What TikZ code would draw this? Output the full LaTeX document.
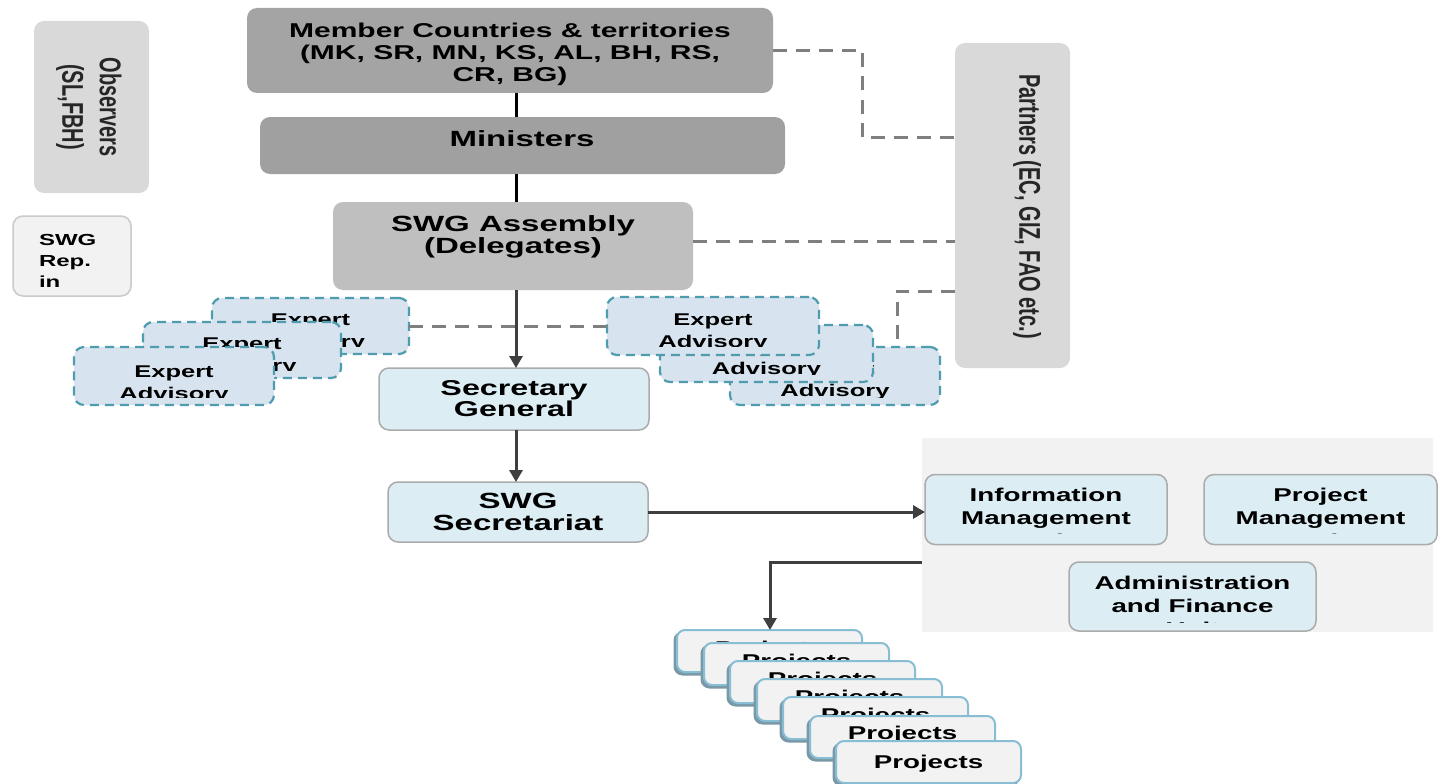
\documentclass[tikz,border=0pt]{standalone}
\usepackage{fontspec}
\setmainfont[FakeStretch=1.5]{Liberation Sans}
\newfontfamily\rotfont{Liberation Sans}
\usetikzlibrary{arrows.meta}
\definecolor{memgray}{HTML}{A4A4A4}
\definecolor{mingray}{HTML}{A0A0A0}
\definecolor{asmgray}{HTML}{BFBFBF}
\definecolor{ltgray}{HTML}{D9D9D9}
\definecolor{palegray}{HTML}{F2F2F2}
\definecolor{repedge}{HTML}{CACACA}
\definecolor{bluefill}{HTML}{DCEDF4}
\definecolor{boxedge}{HTML}{ABABAB}
\definecolor{expfill}{HTML}{D7E4EF}
\definecolor{expedge}{HTML}{4F9CAF}
\definecolor{dashgray}{HTML}{7F7F7F}
\definecolor{arrowgray}{HTML}{3F3F3F}
\definecolor{projedge}{HTML}{88BED4}
\definecolor{projshadow}{HTML}{7A98A6}
\definecolor{rottext}{HTML}{262626}
\begin{document}
\begin{tikzpicture}[x=1pt,y=-1pt,
  every node/.style={inner sep=0pt, outer sep=0pt},
  rbox/.style={rectangle, rounded corners=10pt},
  graybox/.style={rbox, fill=#1},
  repbox/.style={rbox, fill=palegray, draw=repedge, line width=1.5pt},
  bluebox/.style={rbox, fill=bluefill, draw=boxedge, line width=1.5pt},
  expbox/.style={rbox, fill=expfill, draw=expedge, line width=2.2pt, dash pattern=on 9pt off 6pt},
  projbox/.style={rectangle, rounded corners=8pt, fill=palegray, draw=projedge, line width=2pt, minimum width=185pt, minimum height=42pt},
  dashline/.style={draw=dashgray, line width=3pt, dash pattern=on 14pt off 9pt},
  solidline/.style={draw=black, line width=3pt},
  arrowline/.style={draw=arrowgray, line width=3pt, -{Triangle[length=12pt,width=13pt]}},
  lbl/.style args={#1/#2}{font=\bfseries\fontsize{#1}{#2}\selectfont, align=center},
  rotlbl/.style={font=\rotfont\bfseries\fontsize{20}{25}\selectfont, text=rottext, align=center, transform shape, rotate=-90}
]
\useasboundingbox (0,0) rectangle (1441,784);
\fill[white] (0,0) rectangle (1441,784);

\coordinate (spine) at (516,0);

% ---- left column ----
\node[graybox=ltgray, minimum width=115pt, minimum height=172pt] (observers) at (91.5,107) {};
\begin{scope}[shift={(89,107)}, xscale=1.5]
  \node[rotlbl] (obstext) at (0,0) {Observers\\(SL,FBH)};
\end{scope}
\node[repbox, minimum width=118pt, minimum height=80pt] (rep) at (72,256) {};
\node[lbl=16/21, align=left, anchor=west] (reptext) at (39,261) {SWG\\Rep.\\in};

% ---- central column ----
\node[graybox=memgray, minimum width=526pt, minimum height=85pt] (member) at (510,50.5) {};
\node[lbl=20/22] (membertext) at (510,54) {Member Countries \& territories\\(MK, SR, MN, KS, AL, BH, RS,\\CR, BG)};
\node[graybox=mingray, minimum width=525pt, minimum height=57pt] (ministers) at (522.5,145.5) {};
\node[lbl=22/22] (ministerstext) at (522,139) {Ministers};
\node[graybox=asmgray, minimum width=360pt, minimum height=88pt] (assembly) at (513,246) {};
\node[lbl=22/22] (assemblytext) at (513,236.5) {SWG Assembly\\(Delegates)};

% ---- partners ----
\node[graybox=ltgray, minimum width=115pt, minimum height=325pt] (partners) at (1012.5,205.5) {};
\begin{scope}[shift={(1027,206.5)}, xscale=1.5]
  \node[rotlbl] (partnerstext) at (0,0) {Partners (EC, GIZ, FAO etc.)};
\end{scope}

% ---- secretariat ----
\node[bluebox, minimum width=270pt, minimum height=62pt] (secgen) at (514,399) {};
\node[lbl=21.5/21] (secgentext) at (514,399) {Secretary\\General};
\node[bluebox, minimum width=260pt, minimum height=60pt] (secretariat) at (518,512) {};
\node[lbl=22/22] (secretariattext) at (518,512) {SWG\\Secretariat};

% ---- units panel ----
\node[rectangle, fill=palegray, minimum width=511pt, minimum height=194pt] (panel) at (1177.5,535) {};
\node[bluebox, minimum width=242pt, minimum height=70pt] (imu) at (1046,509.5) {};
\node[bluebox, minimum width=233pt, minimum height=70pt] (pmu) at (1320.5,509.5) {};
\node[bluebox, minimum width=247pt, minimum height=69pt] (afu) at (1192.5,596.5) {};
\begin{scope}
  \clip ([yshift=-4pt]imu.north west) rectangle ([yshift=11pt]imu.south east);
  \node[lbl=18.5/23] (imutext) at (1046,518) {Information\\Management\\Unit};
\end{scope}
\begin{scope}
  \clip ([yshift=-4pt]pmu.north west) rectangle ([yshift=11pt]pmu.south east);
  \node[lbl=18.5/23] (pmutext) at (1320.5,518) {Project\\Management\\Unit};
\end{scope}
\begin{scope}
  \clip ([yshift=-4pt]afu.north west) rectangle ([yshift=9pt]afu.south east);
  \node[lbl=18.5/23] (afutext) at (1192.5,606) {Administration\\and Finance\\Unit};
\end{scope}

% ---- dashed connectors ----
\coordinate (d1) at (862,137);
\coordinate (d3) at (897,291);
\coordinate (d2) at ([yshift=5pt]assembly.east);
\draw[dashline] (member.east) -| (d1) -- (partners.west |- d1);
\draw[dashline] (d2) -- (partners.west |- d2);

% ---- expert advisory, left stack ----
\node[expbox, minimum width=197pt, minimum height=56pt] (L1) at (310.5,326) {};
\begin{scope}
  \clip ([yshift=-4pt]L1.north west) rectangle ([yshift=8pt]L1.south east);
  \node[lbl=17/22] (L1text) at (310.5,332) {Expert\\Advisory};
\end{scope}
\node[expbox, minimum width=198pt, minimum height=56pt] (L2) at (242,350) {};
\begin{scope}
  \clip ([yshift=-4pt]L2.north west) rectangle ([yshift=8pt]L2.south east);
  \node[lbl=17/22] (L2text) at (242,356) {Expert\\Advisory};
\end{scope}
\node[expbox, minimum width=200pt, minimum height=58pt] (L3) at (174,376) {};
\begin{scope}
  \clip ([yshift=-4pt]L3.north west) rectangle ([yshift=8pt]L3.south east);
  \node[lbl=17/22] (L3text) at (174,384) {Expert\\Advisory};
\end{scope}

% ---- expert advisory, right stack ----
\node[expbox, minimum width=210pt, minimum height=58pt] (R3) at (835,376) {};
\begin{scope}
  \clip ([yshift=-4pt]R3.north west) rectangle ([yshift=8pt]R3.south east);
  \node[lbl=17/22] (R3text) at (835,381) {Expert\\Advisory};
\end{scope}
\node[expbox, minimum width=213pt, minimum height=57pt] (R2) at (766.5,353.5) {};
\begin{scope}
  \clip ([yshift=-4pt]R2.north west) rectangle ([yshift=8pt]R2.south east);
  \node[lbl=17/22] (R2text) at (766.5,359) {Expert\\Advisory};
\end{scope}
\node[expbox, minimum width=212pt, minimum height=58pt] (R1) at (713,326) {};
\begin{scope}
  \clip ([yshift=-4pt]R1.north west) rectangle ([yshift=9pt]R1.south east);
  \node[lbl=17/22] (R1text) at (713,332) {Expert\\Advisory};
\end{scope}

\draw[dashline] (L1.east) -- (R1.west |- L1.east);
\draw[dashline] (partners.west |- d3) -- (d3) -- (d3 |- R3.north);

% ---- solid connectors ----
\draw[solidline] (member.south -| spine) -- (ministers.north -| spine);
\draw[solidline] (ministers.south -| spine) -- (assembly.north -| spine);
\draw[arrowline] (assembly.south -| spine) -- (secgen.north -| spine);
\draw[arrowline] (secgen.south -| spine) -- (secretariat.north -| spine);
\draw[arrowline] (secretariat.east) -- (imu.west |- secretariat.east);

% ---- projects stack ----
\foreach \i/\x/\y/\t in {1/769.5/651/650, 2/796.5/664/663, 3/822.5/682/681, 4/849.5/700/699, 5/875.5/718/717, 6/902.5/737/735, 7/928.5/762/764} {
  \node[projbox, fill=projshadow, draw=projshadow] (S\i) at (\x-2.5,\y+2.5) {};
  \node[projbox] (P\i) at (\x,\y) {};
  \node[lbl=18.5/20] (T\i) at (\x,\t) {Projects};
}
\coordinate (pj) at (770,0);
\draw[arrowline] (panel.west |- afu.north) -- (pj |- afu.north) -- (pj |- P1.north);
\end{tikzpicture}
\end{document}
